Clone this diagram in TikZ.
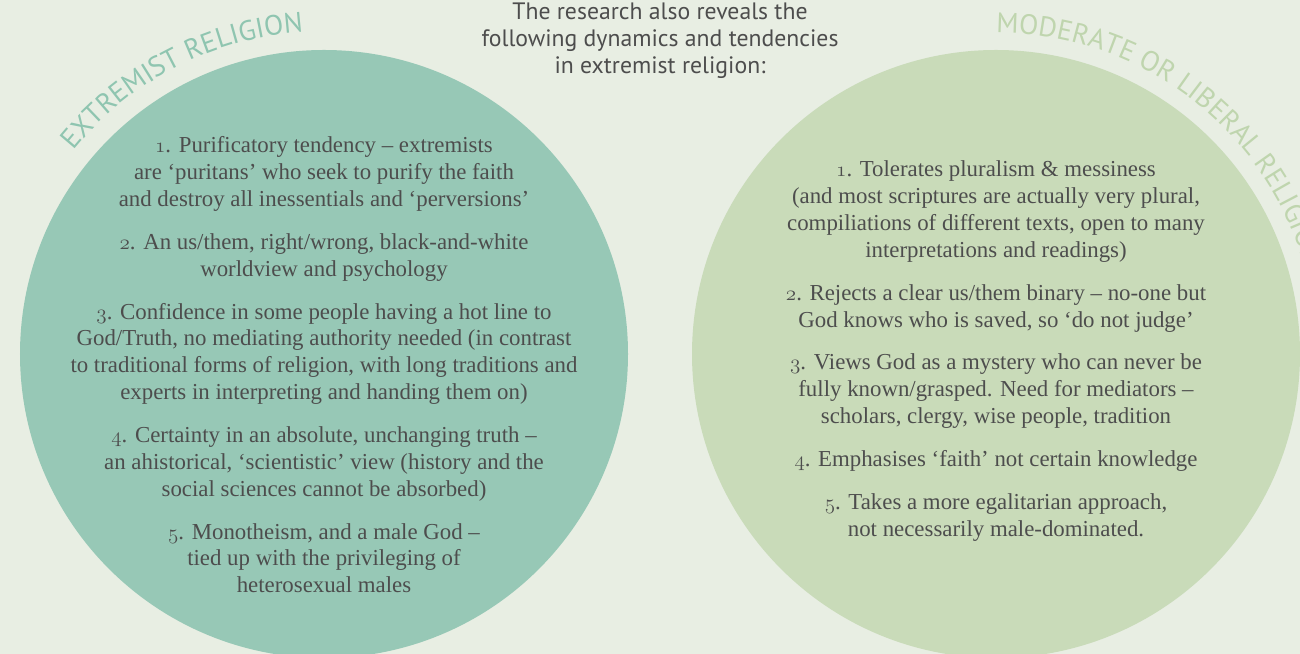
\documentclass[tikz,border=0pt]{standalone}
\usepackage{fontspec}
\setmainfont{Liberation Serif}
\newfontfamily\headfont{PT Sans}
\usetikzlibrary{decorations.text}

\definecolor{bgcol}{HTML}{E8EEE3}
\definecolor{extremecol}{HTML}{97C8B6}
\definecolor{moderatecol}{HTML}{C9DBB9}
\definecolor{extremelabel}{HTML}{8FC5B0}
\definecolor{moderatelabel}{HTML}{BFD5AE}
\definecolor{textcol}{HTML}{4D4D4D}

% old style figures for the item numbers
\newcommand{\itemnum}[1]{$\mathnormal{#1}$.}

\begin{document}
\begin{tikzpicture}[
    points/.style={align=center, text=textcol, inner sep=0pt, anchor=base,
        font=\fontsize{13}{15.25}\selectfont},
    intro/.style={align=center, text=textcol, inner sep=0pt, anchor=base,
        font=\headfont\fontsize{13.5}{15.5}\selectfont},
    ]
    \clip (0,0) rectangle (26,13.08);
    \fill[bgcol] (0,0) rectangle (26,13.08);
    \foreach \cx/\name/\col in {6.48/extremist/extremecol, 19.92/moderate/moderatecol}
        \node[circle, fill=\col, inner sep=0pt, minimum size=12.16cm] (\name) at (\cx,6) {};

    % headings bent round the circles
    \path[decorate, decoration={text along path, text color=extremelabel,
        text={|\headfont\fontsize{16}{18}\selectfont|EXTREMIST RELIGION}}]
        (extremist.center) ++(141:6.45) arc[start angle=141, end angle=60, radius=6.45];
    \path[decorate, decoration={text along path, text color=moderatelabel,
        text={|\headfont\fontsize{16}{18}\selectfont|MODERATE OR LIBERAL RELIGION}}]
        (moderate.center) ++(90:6.42) arc[start angle=90, end angle=0, radius=6.42];

    % the base anchor sits on the last line
    \node[intro] (intro) at (13.2,11.6) {The research also reveals the\\
        following dynamics and tendencies\\in extremist religion:};

    \node[points] (extremelist) at (6.48,1.226) {%
        \itemnum{1} Purificatory tendency – extremists\\
        are ‘puritans’ who seek to purify the faith\\
        and destroy all inessentials and ‘perversions’\\[9.2pt]
        \itemnum{2} An us/them, right/wrong, black-and-white\\
        worldview and psychology\\[9.2pt]
        \itemnum{3} Confidence in some people having a hot line to\\
        God/Truth, no mediating authority needed (in contrast\\
        to traditional forms of religion, with long traditions and\\
        experts in interpreting and handing them on)\\[9.2pt]
        \itemnum{4} Certainty in an absolute, unchanging truth –\\
        an ahistorical, ‘scientistic’ view (history and the\\
        social sciences cannot be absorbed)\\[9.2pt]
        \itemnum{5} Monotheism, and a male God –\\
        tied up with the privileging of\\
        heterosexual males};

    \node[points] (moderatelist) at (19.92,2.354) {%
        \itemnum{1} Tolerates pluralism \& messiness\\
        (and most scriptures are actually very plural,\\
        compiliations of different texts, open to many\\
        interpretations and readings)\\[9.2pt]
        \itemnum{2} Rejects a clear us/them binary – no-one but\\
        God knows who is saved, so ‘do not judge’\\[9.2pt]
        \itemnum{3} Views God as a mystery who can never be\\
        fully known/grasped. Need for mediators –\\
        scholars, clergy, wise people, tradition\\[9.2pt]
        \itemnum{4} Emphasises ‘faith’ not certain knowledge\\[9.2pt]
        \itemnum{5} Takes a more egalitarian approach,\\
        not necessarily male-dominated.};
\end{tikzpicture}
\end{document}
